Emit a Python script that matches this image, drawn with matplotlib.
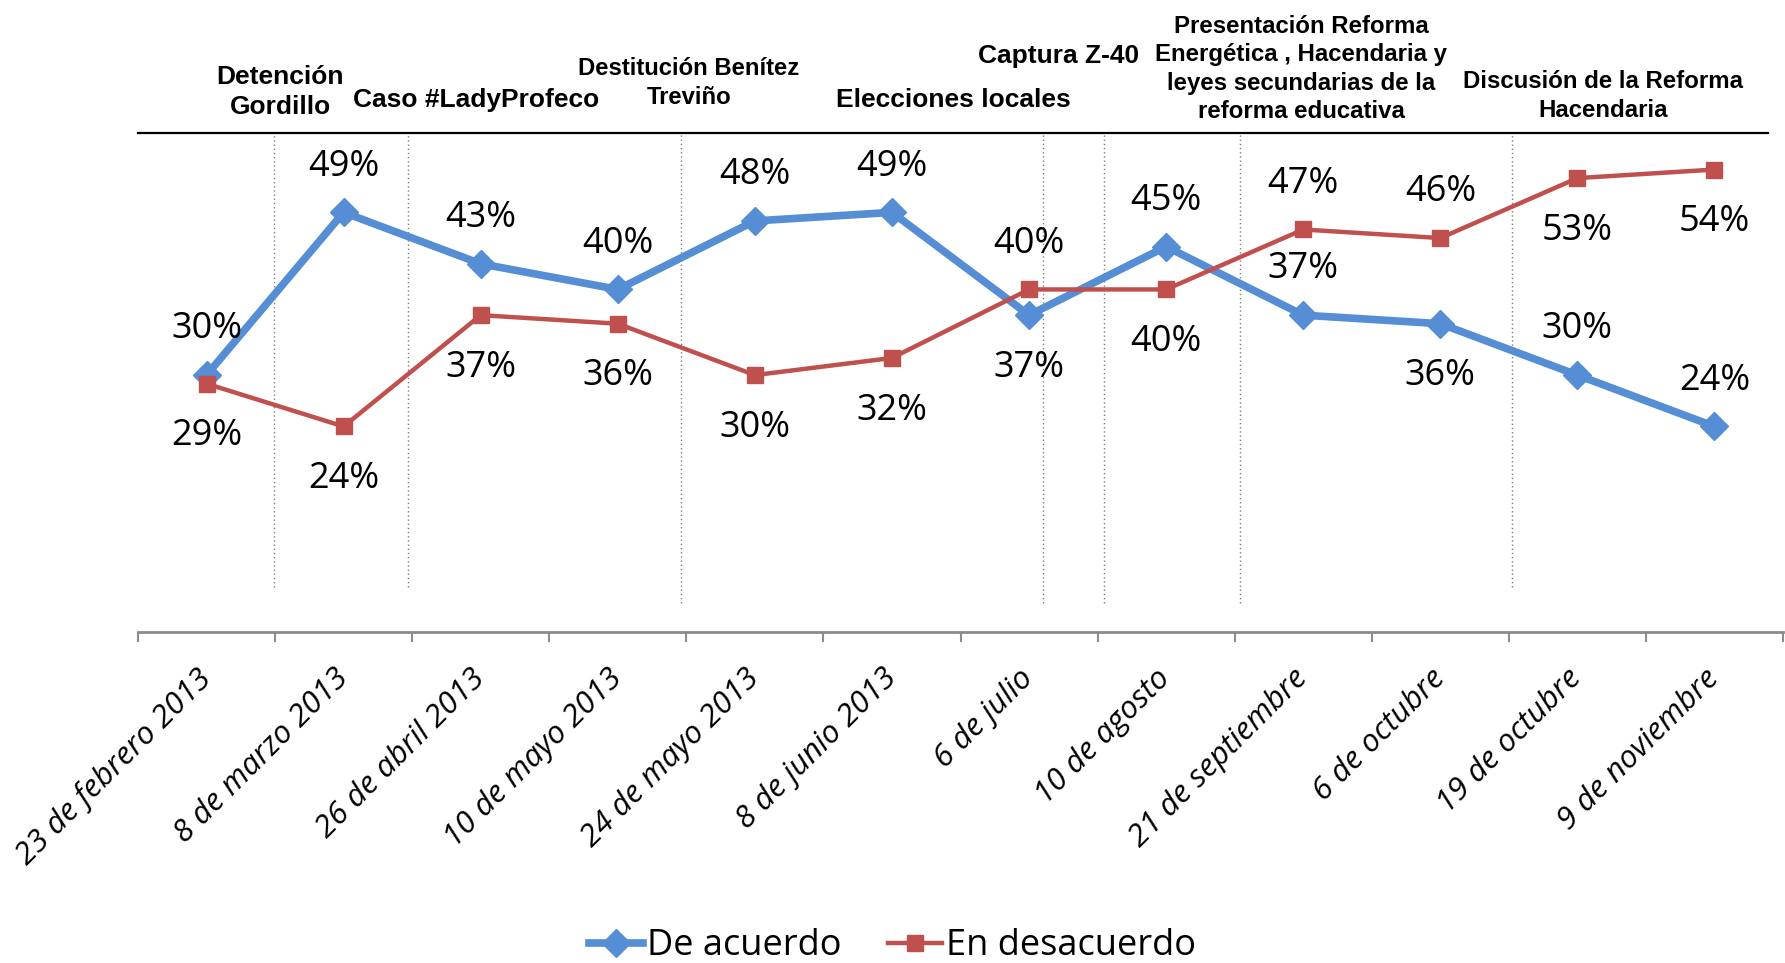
import numpy as np
import matplotlib
matplotlib.use("Agg")
import matplotlib.pyplot as plt

# datos de la encuesta
fechas = ["23 de febrero 2013", "8 de marzo 2013", "26 de abril 2013", "10 de mayo 2013",
          "24 de mayo 2013", "8 de junio 2013", "6 de julio", "10 de agosto",
          "21 de septiembre", "6 de octubre", "19 de octubre", "9 de noviembre"]
de_acuerdo = [30, 49, 43, 40, 48, 49, 37, 45, 37, 36, 30, 24]
en_desacuerdo = [29, 24, 37, 36, 30, 32, 40, 40, 47, 46, 53, 54]

# eventos (texto, linea punteada)
eventos = ["Detención\nGordillo", "Caso #LadyProfeco", "Destitución Benítez\nTreviño",
           "Elecciones locales", "Captura Z-40",
           "Presentación Reforma\nEnergética , Hacendaria y\nleyes secundarias de la\nreforma educativa",
           "Discusión de la Reforma\nHacendaria"]
eventos_x = [0.49, 1.47, 3.46, 6.10, 6.55, 7.54, 9.52]

# lado de la etiqueta: +1 arriba, -1 abajo
lado_acuerdo = [1, 1, 1, 1, 1, 1, -1, 1, 1, -1, 1, 1]
lado_desacuerdo = [-1, -1, -1, -1, -1, -1, 1, -1, 1, 1, -1, -1]

BLUE = "#558ED5"
RED = "#C0504D"
GRAY = "#8C8C8C"
NUM_FONT = ["Open Sans", "DejaVu Sans"]
BOLD_FONT = ["Liberation Sans", "DejaVu Sans"]

fig = plt.figure(figsize=(17.85, 9.63), dpi=100)
ax = fig.add_axes([0.0773, 0.3437, 0.9216, 0.5336])
x = np.arange(len(fechas))

ax.plot(x, de_acuerdo, color=BLUE, lw=5.5, marker="D", ms=14, zorder=3, label="De acuerdo")
ax.plot(x, en_desacuerdo, color=RED, lw=3.2, marker="s", ms=12, zorder=4, label="En desacuerdo")

for xi, v, s in zip(x, de_acuerdo, lado_acuerdo):
    ax.annotate(f"{v}%", (xi, v), xytext=(0, 35.5 * s - 2.5), textcoords="offset points",
                ha="center", va="center", fontsize=26, family=NUM_FONT)
for xi, v, s in zip(x, en_desacuerdo, lado_desacuerdo):
    ax.annotate(f"{v}%", (xi, v), xytext=(0, 35.5 * s - 2.5), textcoords="offset points",
                ha="center", va="center", fontsize=26, family=NUM_FONT)

ax.set_xlim(-0.5, len(fechas) - 0.5)
ax.set_ylim(0, 60)
ax.set_yticks([])
for sp in ["left", "right", "top"]:
    ax.spines[sp].set_visible(False)
ax.spines["bottom"].set_color(GRAY)
ax.spines["bottom"].set_linewidth(2)

ax.set_xticks(np.arange(-0.5, len(fechas), 1))
ax.set_xticklabels([])
ax.tick_params(axis="x", which="major", length=7, width=1.5, color=GRAY)
ax.set_xticks(x, minor=True)
ax.set_xticklabels(fechas, minor=True, rotation=45, ha="right", rotation_mode="anchor",
                   fontsize=22.5, fontstyle="italic", family=NUM_FONT)
ax.tick_params(axis="x", which="minor", length=0, pad=30)
for lbl in ax.get_xticklabels(minor=True):
    lbl.set_va("center")

# linea negra superior y lineas punteadas de eventos
tope = 58.3
ax.axhline(tope, xmin=0, xmax=0.991, color="black", lw=1.6, clip_on=False)
fondos = [5.3, 5.3, 3.4, 3.4, 3.4, 3.4, 5.3]
ax.vlines(eventos_x, fondos, tope, colors="#7F7F7F", linestyles=(0, (1, 2)), lw=1)

# textos de eventos (centro en pixeles de la figura) y su tamano
pos_eventos = [(280, 92), (476, 100), (689, 83), (953, 100), (1059, 56), (1301, 69), (1603, 96)]
tam_eventos = [19, 19, 17.2, 19, 19, 17.3, 17.3]
W, H = 1785, 963
for txt, (px, py), fs in zip(eventos, pos_eventos, tam_eventos):
    fig.text(px / W, 1 - py / H, txt, ha="center", va="center", fontsize=fs,
             fontweight="bold", family=BOLD_FONT, linespacing=1.28)

fig.legend(loc="lower center", bbox_to_anchor=(0.5, -0.035), ncol=2, frameon=False,
           prop={"family": NUM_FONT, "size": 26}, handlelength=1.5, columnspacing=1.3,
           handletextpad=0.1)

fig.savefig("out.png", dpi=100)
